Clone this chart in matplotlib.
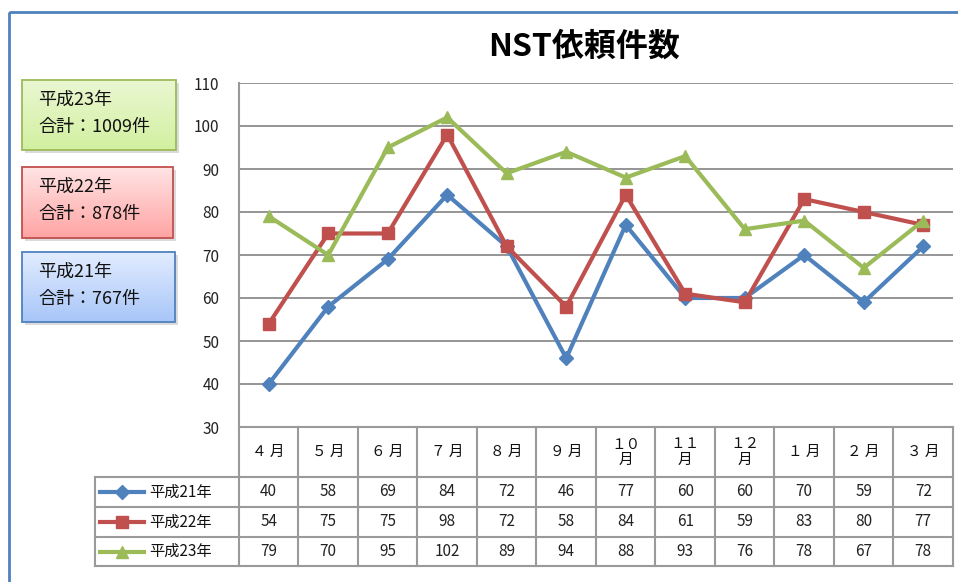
import numpy as np
import matplotlib
matplotlib.use("Agg")
import matplotlib.pyplot as plt
from matplotlib.patches import Rectangle
from matplotlib.lines import Line2D

plt.rcParams['font.family'] = ['Noto Sans CJK JP', 'DejaVu Sans']

# ---- data ----
months = ["４ 月", "５ 月", "６ 月", "７ 月", "８ 月", "９ 月", "１０\n月", "１１\n月", "１２\n月", "１ 月", "２ 月", "３ 月"]
series_names = ["平成21年", "平成22年", "平成23年"]
h21 = [40, 58, 69, 84, 72, 46, 77, 60, 60, 70, 59, 72]
h22 = [54, 75, 75, 98, 72, 58, 84, 61, 59, 83, 80, 77]
h23 = [79, 70, 95, 102, 89, 94, 88, 93, 76, 78, 67, 78]
totals = [767, 878, 1009]
y_ticks = [30, 40, 50, 60, 70, 80, 90, 100, 110]

colors = ["#4f81bd", "#c0504d", "#9bbb59"]
markers = ["D", "s", "^"]
msizes = [7, 9, 9]

W, H = 958, 582
fig = plt.figure(figsize=(W / 100, H / 100), dpi=100)

# full-figure canvas in pixel units for frame, boxes and data table
canvas = fig.add_axes([0, 0, 1, 1], zorder=0)
canvas.set_xlim(0, W)
canvas.set_ylim(H, 0)
canvas.axis("off")

# outer chart frame
canvas.add_patch(Rectangle((9, 12), 1000, 640, fill=False, edgecolor="#4f81bd", lw=2))

# plot area
px_l, px_r, px_t, px_b = 239, 953, 83, 427
ax = fig.add_axes([px_l / W, (H - px_b) / H, (px_r - px_l) / W, (px_b - px_t) / H], zorder=2)
ax.patch.set_alpha(0)
n = len(months)
x = np.arange(n)
ax.set_xlim(-0.5, n - 0.5)
ax.set_ylim(y_ticks[0], y_ticks[-1])
ax.set_yticks(y_ticks)
ax.set_xticks([])
ax.tick_params(axis="y", length=0, pad=14, labelsize=11, labelcolor="#222222")
for s in ["top", "right", "bottom"]:
    ax.spines[s].set_visible(False)
ax.spines["left"].set_color("#999999")
ax.spines["left"].set_linewidth(1.5)
for yv in y_ticks[1:]:
    ax.axhline(yv, color="#8c8c8c", lw=1.3, zorder=1)

for vals, c, m, ms in zip([h21, h22, h23], colors, markers, msizes):
    ax.plot(x, vals, color=c, lw=3, marker=m, markersize=ms, zorder=3, clip_on=False)

# title
fig.text(584 / W, 1 - 47 / H, "NST依頼件数", ha="center", va="center",
         fontsize=23, fontweight="bold", color="#000000")

# summary boxes with vertical gradient fills
box_specs = [
    (22, 80, 154, 70, "#eaf7d2", "#d2f0a0", "#9bbb59", 2),
    (22, 167, 151, 71, "#ffe4e4", "#ffa4a4", "#c0504d", 1),
    (22, 252, 153, 70, "#e2ecff", "#a8c6f8", "#4f81bd", 0),
]
for bx, by, bw, bh, ctop, cbot, edge, si in box_specs:
    canvas.add_patch(Rectangle((bx + 3, by + 3), bw, bh, facecolor="#c4c4c4",
                               edgecolor="none", alpha=0.6, zorder=1))
    grad = np.linspace(0, 1, 64)[:, None]
    c1 = np.array(matplotlib.colors.to_rgb(ctop))
    c2 = np.array(matplotlib.colors.to_rgb(cbot))
    img = c1[None, None, :] * (1 - grad[..., None]) + c2[None, None, :] * grad[..., None]
    canvas.imshow(img, extent=(bx, bx + bw, by + bh, by), aspect="auto", zorder=2,
                  interpolation="bilinear")
    canvas.add_patch(Rectangle((bx, by), bw, bh, fill=False, edgecolor=edge, lw=1.3, zorder=3))
    canvas.text(bx + 16, by + 20, series_names[si], fontsize=13, va="center", ha="left",
                color="#111111", zorder=4)
    canvas.text(bx + 16, by + 47, f"合計：{totals[si]}件", fontsize=13, va="center",
                ha="left", color="#111111", zorder=4)
canvas.set_xlim(0, W)
canvas.set_ylim(H, 0)

# data table below the plot area
grid_c = "#9a9a9a"
col_w = (px_r - px_l) / n
tbl_l = 95
row_edges = [px_b, 477, 507, 537, 566]
for i in range(n + 1):
    xe = px_l + i * col_w
    canvas.plot([xe, xe], [px_b, row_edges[-1]], color=grid_c, lw=1.5, zorder=3)
canvas.plot([tbl_l, tbl_l], [row_edges[1], row_edges[-1]], color=grid_c, lw=1.5, zorder=3)
for k, ye in enumerate(row_edges):
    x0 = px_l if k == 0 else tbl_l
    canvas.plot([x0, px_r], [ye, ye], color=grid_c, lw=1.5, zorder=3)

for i, mlab in enumerate(months):
    cx = px_l + (i + 0.5) * col_w
    canvas.text(cx, (row_edges[0] + row_edges[1]) / 2, mlab, ha="center", va="center",
                fontsize=10.5, color="#111111", linespacing=1.1, zorder=4)

for r, vals in enumerate([h21, h22, h23]):
    cy = (row_edges[r + 1] + row_edges[r + 2]) / 2
    for i, v in enumerate(vals):
        cx = px_l + (i + 0.5) * col_w
        canvas.text(cx, cy, str(v), ha="center", va="center", fontsize=11,
                    color="#222222", zorder=4)
    canvas.add_line(Line2D([100, 144], [cy, cy], color=colors[r], lw=3, zorder=4))
    canvas.plot([122], [cy], marker=markers[r], color=colors[r], markersize=msizes[r],
                linestyle="none", zorder=5)
    canvas.text(149, cy, series_names[r], ha="left", va="center", fontsize=11,
                color="#111111", zorder=4)

fig.savefig("out.png", dpi=100)
